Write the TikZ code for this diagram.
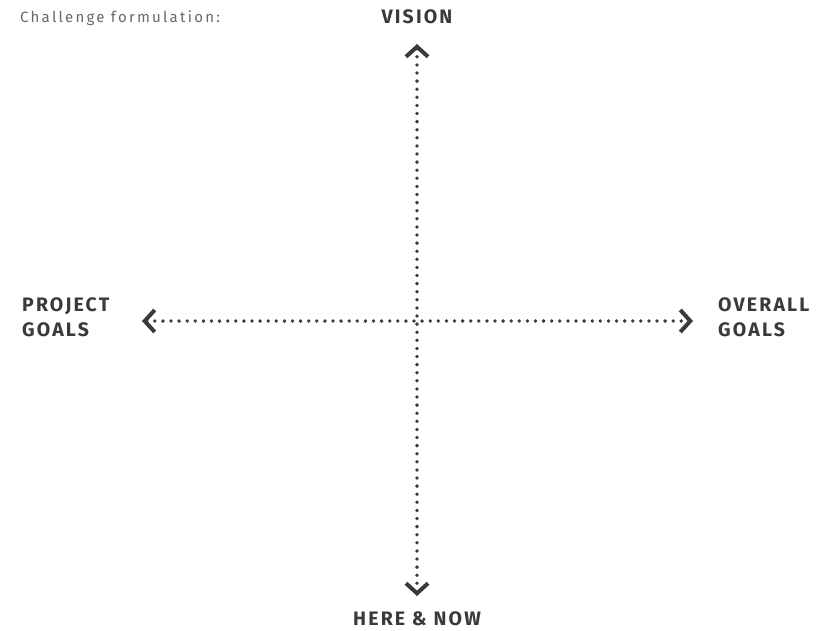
\documentclass[tikz,border=0pt]{standalone}
\usepackage{fontspec}
\setmainfont{Fira Sans}
\newfontfamily\labelfont[LetterSpace=11]{Fira Sans}
\newfontfamily\notefont[LetterSpace=15]{Fira Sans}
\usetikzlibrary{arrows.meta}
\definecolor{ink}{HTML}{3D3937}
\definecolor{notegray}{HTML}{6A6664}
\begin{document}
\begin{tikzpicture}[x=1pt,y=-1pt,
  axislabel/.style={text=ink,font=\labelfont\bfseries\fontsize{19.5}{24.5}\selectfont,inner sep=0pt},
  sidelabel/.style={axislabel,align=left,anchor=west},
  dotline/.style={draw=ink,line width=3.8pt,line cap=round,dash pattern=on 0pt off 8.1pt},
  chevron/.tip={Straight Barb[length=10pt,width=22pt,line width=4pt]},
  chev/.style={chevron-chevron}
]
\useasboundingbox (0,0) rectangle (825,630);
% axis end points
\coordinate (top) at (417,44);
\coordinate (bottom) at (417,596);
\coordinate (left) at (142,321);
\coordinate (right) at (693,321);
% dotted axes with chevron heads
\draw[dotline,chev] (top) -- (bottom);
\draw[dotline,chev] (left) -- (right);
% labels
\node[text=notegray,font=\notefont\fontsize{15}{18}\selectfont,anchor=base west,inner sep=0pt] (note) at (20,22) {Challenge formulation:};
\node[axislabel] (vision) at (417,16.5) {VISION};
\node[axislabel] (herenow) at (417,618.5) {HERE \& NOW};
\node[sidelabel] (project) at (22,317) {PROJECT\\GOALS};
\node[sidelabel] (overall) at (718,317) {OVERALL\\GOALS};
\end{tikzpicture}
\end{document}
